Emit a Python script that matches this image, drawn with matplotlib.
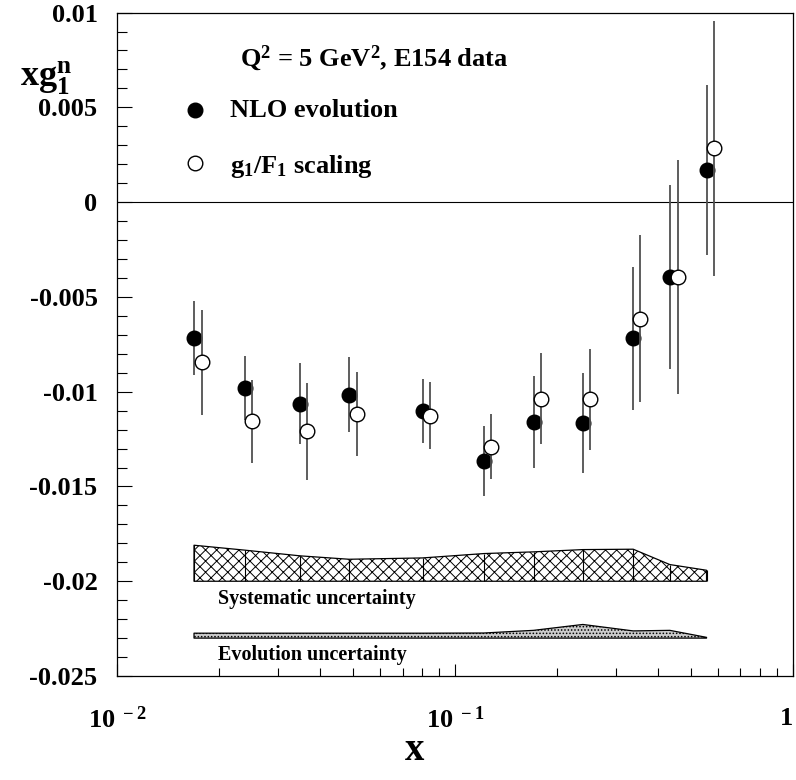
import numpy as np
import matplotlib
matplotlib.use('Agg')
from matplotlib import pyplot as plt
from matplotlib.ticker import MultipleLocator, FixedLocator, NullFormatter

plt.rcParams['font.family'] = 'Liberation Serif'
plt.rcParams['font.weight'] = 'bold'
plt.rcParams['mathtext.fontset'] = 'custom'
plt.rcParams['mathtext.rm'] = 'Liberation Serif:bold'
plt.rcParams['mathtext.it'] = 'Liberation Serif:bold'
plt.rcParams['mathtext.bf'] = 'Liberation Serif:bold'
plt.rcParams['axes.unicode_minus'] = False
plt.rcParams['hatch.linewidth'] = 0.7

# NLO evolution (filled) points
x_nlo = [0.0169, 0.0239, 0.0348, 0.0486, 0.0802, 0.1218, 0.1709, 0.2391, 0.337, 0.4325, 0.5555]
y_nlo = [-0.00716, -0.00983, -0.01064, -0.01015, -0.01103, -0.01365, -0.01161, -0.01165,
         -0.00719, -0.00397, 0.00169]
e_nlo = [0.00195, 0.00169, 0.00213, 0.00196, 0.00169, 0.00184, 0.00242, 0.00264,
         0.00377, 0.00485, 0.0045]

# g1/F1 scaling (open) points
x_sc = [0.0178, 0.0251, 0.0366, 0.0512, 0.0843, 0.1281, 0.1796, 0.2508, 0.3534, 0.456, 0.5838]
y_sc = [-0.00846, -0.01157, -0.0121, -0.01117, -0.01126, -0.01291, -0.01038, -0.01041,
        -0.00614, -0.00397, 0.00283]
e_sc = [0.00275, 0.0022, 0.00254, 0.0022, 0.00179, 0.00172, 0.0024, 0.00266,
        0.00442, 0.00617, 0.00675]

# uncertainty bands
x_band = [0.0169, 0.0239, 0.0348, 0.0486, 0.0802, 0.1218, 0.1709, 0.2391, 0.337, 0.4325, 0.5555]
sys_top = [-0.0181, -0.01836, -0.01866, -0.01884, -0.01877, -0.01854, -0.01845, -0.01833,
           -0.01831, -0.01912, -0.01942]
sys_base = -0.02
evo_top = [-0.02274, -0.02274, -0.02274, -0.02274, -0.02274, -0.02273, -0.02259, -0.02228,
           -0.02262, -0.02259, -0.02296]
evo_base = -0.023

fig = plt.figure(figsize=(7.96, 7.80), dpi=100)
ax = fig.add_axes([0.147, 0.1333, 0.849, 0.8506])

ax.set_xscale('log')
ax.set_xlim(0.01, 1.0)
ax.set_ylim(-0.025, 0.01)

ax.axhline(0, color='k', lw=0.8)

ax.errorbar(x_nlo, y_nlo, yerr=e_nlo, fmt='o', color='k', ecolor='#505050', elinewidth=1.3,
            markersize=10.5, capsize=0, zorder=3)
ax.errorbar(x_sc, y_sc, yerr=e_sc, fmt='o', mfc='white', mec='k', mew=1.0, ecolor='#505050',
            elinewidth=1.3, markersize=10.5, capsize=0, zorder=4)

# systematic band
ax.fill_between(x_band, sys_base, sys_top, facecolor='white', edgecolor='k', hatch='xxx', lw=0.9)
ax.vlines(x_band, sys_base, sys_top, colors='k', lw=0.8)

# evolution band
ax.fill_between(x_band, evo_base, evo_top, facecolor='#cccccc', edgecolor='k', hatch='.....', lw=0.9)

tf = ax.transAxes
ax.text(0.182, 0.931, 'Q$^2$ = 5 GeV$^2$, E154 data', transform=tf, fontsize=19, va='center')
ax.plot([0.115], [0.853], 'o', color='k', markersize=10.5, transform=tf, clip_on=False)
ax.text(0.167, 0.853, 'NLO evolution', transform=tf, fontsize=19, va='center')
ax.plot([0.115], [0.773], 'o', mfc='white', mec='k', markersize=10.5, transform=tf, clip_on=False)
ax.text(0.167, 0.768, 'g$_1$/F$_1$ scaling', transform=tf, fontsize=19, va='center')

ax.text(0.149, 0.116, 'Systematic uncertainty', transform=tf, fontsize=14.5, va='center')
ax.text(0.149, 0.032, 'Evolution uncertainty', transform=tf, fontsize=14.5, va='center')

# ticks
y_ticks = [0.01, 0.005, 0, -0.005, -0.01, -0.015, -0.02, -0.025]
y_labels = ['0.01', '0.005', '0', '-0.005', '-0.01', '-0.015', '-0.02', '-0.025']
ax.set_yticks(y_ticks)
ax.set_yticklabels(y_labels)
ax.yaxis.set_minor_locator(MultipleLocator(0.001))
ax.tick_params(axis='y', which='major', direction='in', length=11, width=0.8, pad=14,
               labelsize=19, right=False)
ax.tick_params(axis='y', which='minor', direction='in', length=7, width=0.8, right=False)

ax.set_xticks([0.01, 0.1, 1.0])
ax.set_xticklabels([r'$10^{\ -2}$', r'$10^{\ -1}$', '1'])
ax.get_xticklabels()[-1].set_horizontalalignment('right')
ax.xaxis.set_minor_locator(FixedLocator([m * d for d in (0.01, 0.1) for m in range(2, 10)]))
ax.xaxis.set_minor_formatter(NullFormatter())
ax.tick_params(axis='x', which='major', direction='in', length=9, width=0.8, pad=22,
               labelsize=19, top=False)
ax.tick_params(axis='x', which='minor', direction='in', length=6, width=0.8, top=False)

for s in ax.spines.values():
    s.set_linewidth(0.9)

fig.text(415 / 796, 1 - 750 / 780, 'x', fontsize=28, ha='center', va='center')
fig.text(46 / 796, 1 - 78 / 780, 'xg$_1^n$', fontsize=26, ha='center', va='center')

fig.savefig('out.png', dpi=100)
